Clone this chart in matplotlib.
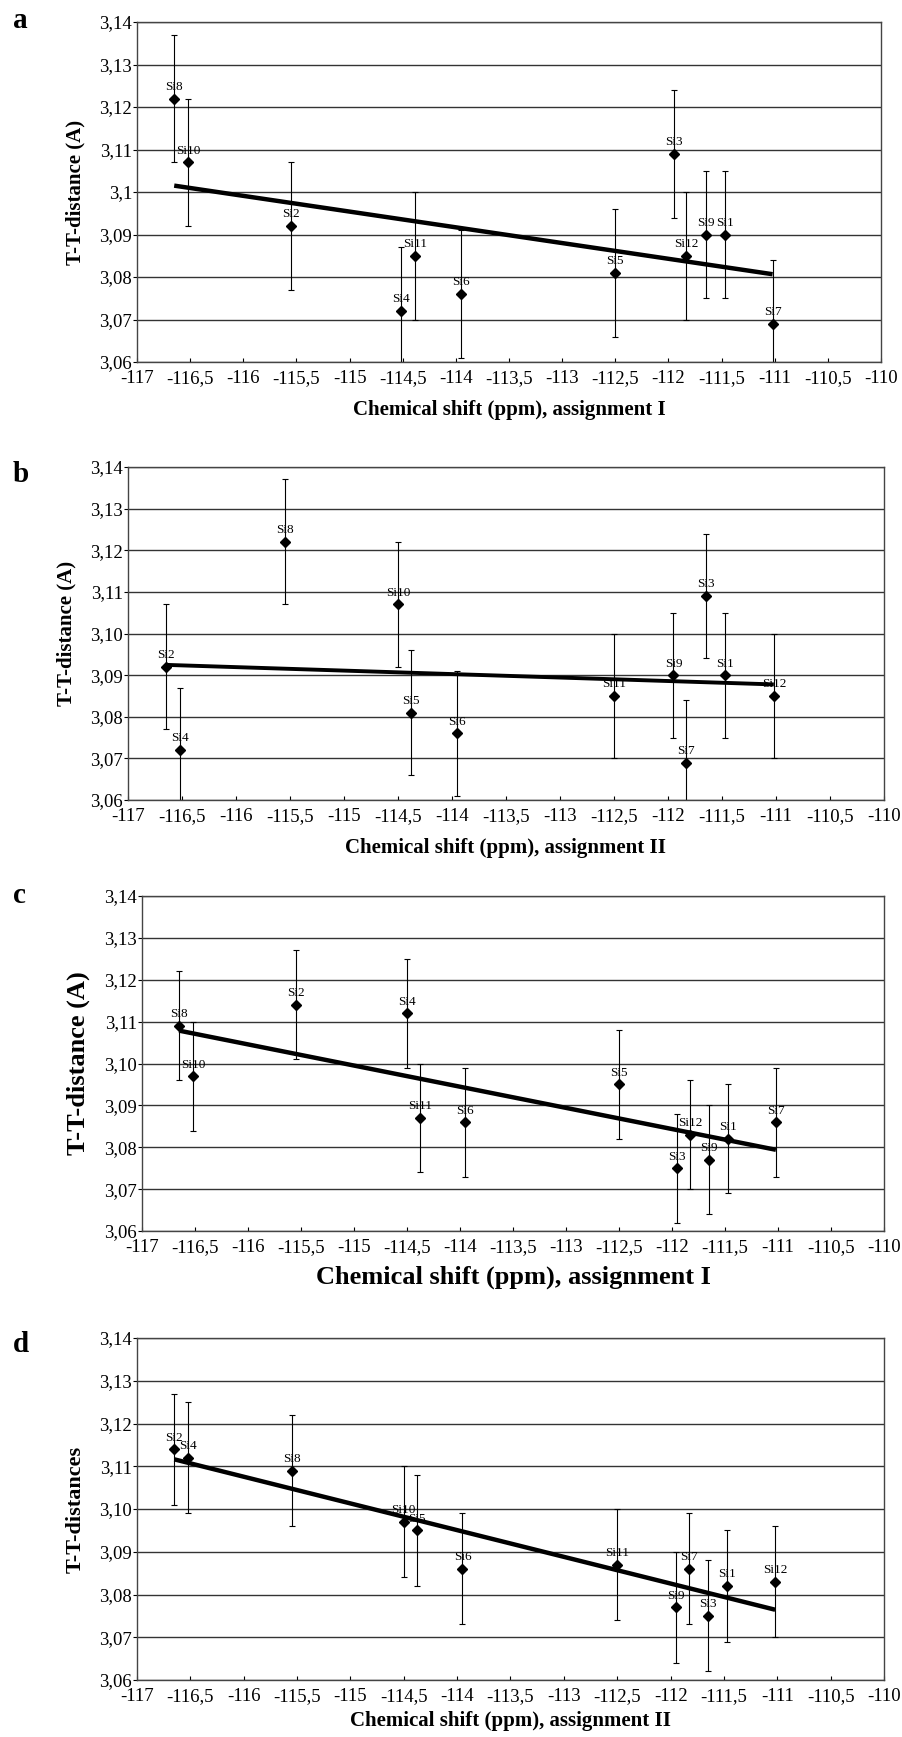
import numpy as np
import matplotlib
matplotlib.use("Agg")
import matplotlib.pyplot as plt

plt.rcParams['font.family'] = ['Liberation Serif', 'DejaVu Serif']

# site names, chemical shifts and T-T distances
names_a = ["Si8", "Si10", "Si2", "Si4", "Si11", "Si6", "Si5", "Si3", "Si12", "Si9", "Si1", "Si7"]
shift_a = [-116.65, -116.52, -115.55, -114.52, -114.38, -113.95, -112.5, -111.95, -111.83, -111.65, -111.47, -111.02]
dist_a = [3.122, 3.107, 3.092, 3.072, 3.085, 3.076, 3.081, 3.109, 3.085, 3.090, 3.090, 3.069]

names_b = ["Si2", "Si4", "Si8", "Si10", "Si5", "Si6", "Si11", "Si9", "Si7", "Si3", "Si1", "Si12"]
shift_b = [-116.65, -116.52, -115.55, -114.5, -114.38, -113.95, -112.5, -111.95, -111.83, -111.65, -111.47, -111.02]
dist_b = [3.092, 3.072, 3.122, 3.107, 3.081, 3.076, 3.085, 3.090, 3.069, 3.109, 3.090, 3.085]

names_c = ["Si8", "Si10", "Si2", "Si4", "Si11", "Si6", "Si5", "Si3", "Si12", "Si9", "Si1", "Si7"]
shift_c = [-116.65, -116.52, -115.55, -114.5, -114.38, -113.95, -112.5, -111.95, -111.83, -111.65, -111.47, -111.02]
dist_c = [3.109, 3.097, 3.114, 3.112, 3.087, 3.086, 3.095, 3.075, 3.083, 3.077, 3.082, 3.086]

names_d = ["Si2", "Si4", "Si8", "Si10", "Si5", "Si6", "Si11", "Si9", "Si7", "Si3", "Si1", "Si12"]
shift_d = [-116.65, -116.52, -115.55, -114.5, -114.38, -113.95, -112.5, -111.95, -111.83, -111.65, -111.47, -111.02]
dist_d = [3.114, 3.112, 3.109, 3.097, 3.095, 3.086, 3.087, 3.077, 3.086, 3.075, 3.082, 3.083]

err_ab = 0.015
err_cd = 0.013

x_ticks = [-117, -116.5, -116, -115.5, -115, -114.5, -114, -113.5, -113, -112.5, -112, -111.5, -111, -110.5, -110]
x_ticklabels = ["-117", "-116,5", "-116", "-115,5", "-115", "-114,5", "-114", "-113,5",
                "-113", "-112,5", "-112", "-111,5", "-111", "-110,5", "-110"]
y_ticks = [3.06, 3.07, 3.08, 3.09, 3.10, 3.11, 3.12, 3.13, 3.14]
y_ticklabels_a = ["3,06", "3,07", "3,08", "3,09", "3,1", "3,11", "3,12", "3,13", "3,14"]
y_ticklabels = ["3,06", "3,07", "3,08", "3,09", "3,10", "3,11", "3,12", "3,13", "3,14"]

W, H = 903, 1737
fig = plt.figure(figsize=(W / 100, H / 100), dpi=100)


def panel(rect, letter, letter_y, names, xs, ys, err, yticklabels, xlabel, ylabel,
          xlabel_size, ylabel_size, xpad, line_w):
    left, right, top, bottom = rect
    ax = fig.add_axes([left / W, 1 - bottom / H, (right - left) / W, (bottom - top) / H])
    ax.set_xlim(-117, -110)
    ax.set_ylim(3.06, 3.14)
    for yv in y_ticks:
        ax.axhline(yv, color="#333333", lw=1.0, zorder=1)
    ax.errorbar(xs, ys, yerr=err, fmt="none", ecolor="black", elinewidth=0.8,
                capsize=2.5, capthick=0.8, zorder=2)
    ax.plot(xs, ys, "D", color="black", markersize=5.5, zorder=4)
    k, b = np.polyfit(xs, ys, 1)
    xl = np.array([min(xs), max(xs)])
    ax.plot(xl, k * xl + b, color="black", lw=line_w, solid_capstyle="butt", zorder=3)
    for n, x, y in zip(names, xs, ys):
        ax.annotate(n, (x, y), xytext=(0, 4), textcoords="offset points",
                    ha="center", va="bottom", fontsize=9.5, zorder=5)
    ax.set_xticks(x_ticks)
    ax.set_xticklabels(x_ticklabels, fontsize=13.5)
    ax.set_yticks(y_ticks)
    ax.set_yticklabels(yticklabels, fontsize=13.5)
    ax.tick_params(axis="x", direction="in", length=3, pad=6, color="black")
    ax.tick_params(axis="y", direction="out", length=3, pad=0.5, color="black")
    for s in ax.spines.values():
        s.set_color("#444444")
        s.set_linewidth(1.0)
    ax.set_xlabel(xlabel, fontsize=xlabel_size, fontweight="bold", labelpad=xpad)
    ax.set_ylabel(ylabel, fontsize=ylabel_size, fontweight="bold", labelpad=10)
    fig.text(13 / W, 1 - letter_y / H, letter, fontsize=21, fontweight="bold",
             ha="left", va="center")
    return ax


panel((137, 881, 22, 362), "a", 20, names_a, shift_a, dist_a, err_ab, y_ticklabels_a,
      "Chemical shift (ppm), assignment I", "T-T-distance (A)", 15, 15, 9, 3.2)
panel((128, 884, 467, 800), "b", 475, names_b, shift_b, dist_b, err_ab, y_ticklabels,
      "Chemical shift (ppm), assignment II", "T-T-distance (A)", 15, 15, 9, 2.8)
panel((142, 884, 896, 1231), "c", 895, names_c, shift_c, dist_c, err_cd, y_ticklabels,
      "Chemical shift (ppm), assignment I", "T-T-distance (A)", 19, 19, 7, 3.2)
panel((137, 884, 1338, 1680), "d", 1345, names_d, shift_d, dist_d, err_cd, y_ticklabels,
      "Chemical shift (ppm), assignment II", "T-T-distances", 15, 16, 4, 3.2)

fig.savefig("out.png", dpi=100)
